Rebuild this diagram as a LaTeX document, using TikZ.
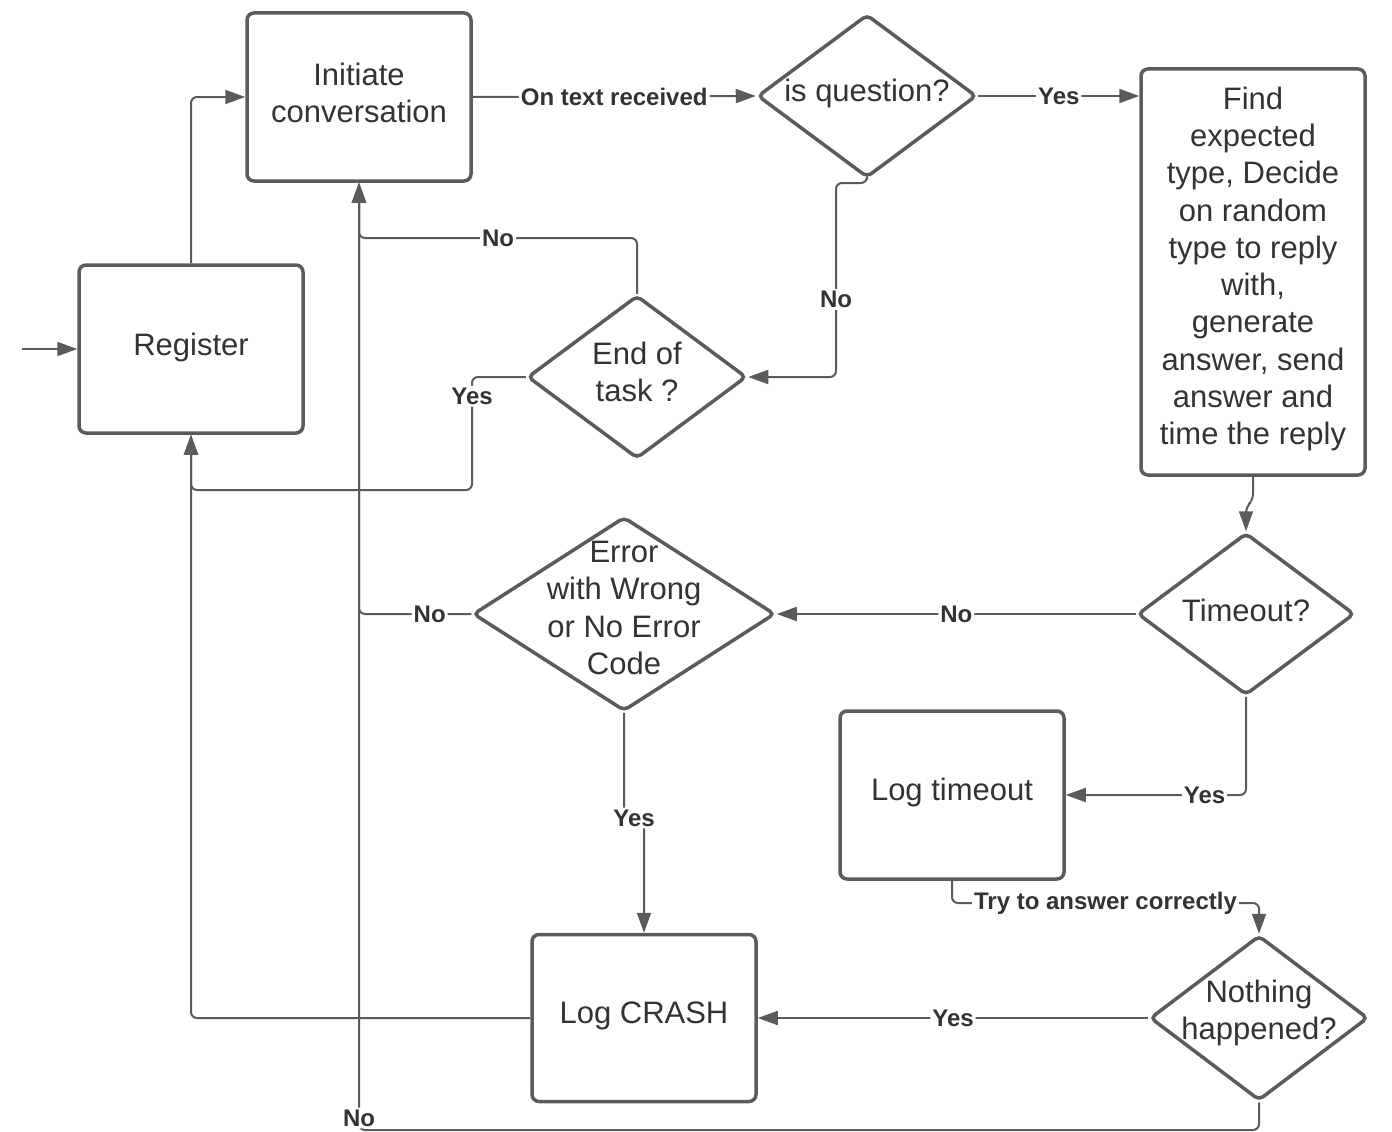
\documentclass[tikz,border=0pt]{standalone}
\usepackage{fontspec}
\setmainfont{Liberation Sans}
\usetikzlibrary{arrows.meta,shapes.geometric}
\definecolor{lc}{HTML}{5B5B5B}
\definecolor{tc}{HTML}{333333}
\newcommand{\mainfnt}{\fontsize{31}{37.3}\selectfont}
\newcommand{\lblfnt}{\fontsize{24}{26}\selectfont\bfseries}
\begin{document}
\begin{tikzpicture}[x=1pt,y=-1pt,
  box/.style={draw=lc, line width=3.5pt, rounded corners=7pt, minimum width=224pt, minimum height=168pt, inner sep=0pt, text=tc, font=\mainfnt, align=center},
  dia/.style={draw=lc, line width=3.5pt, rounded corners=5pt, diamond, inner sep=0pt},
  txt/.style={text=tc, font=\mainfnt, align=center, inner sep=0pt},
  conn/.style={draw=lc, line width=2pt, rounded corners=6pt, -{Triangle[length=20pt,width=14pt]}},
  lbl/.style={fill=white, text=tc, font=\lblfnt, inner sep=2pt}]
\useasboundingbox (0,0) rectangle (1392,1132);
\fill[white] (0,0) rectangle (1392,1132);

% boxes
\node[box] (reg) at (191,349) {};
\node[txt] at (191,347) {Register};
\node[box] (init) at (359,97) {};
\node[txt] at (359,93) {Initiate\\conversation};
\node[box, minimum height=406pt] (find) at (1253,272) {};
\node[txt] at (1253,269) {Find\\expected\\type, Decide\\on random\\type to reply\\with,\\generate\\answer, send\\answer and\\time the reply};
\node[box] (logt) at (952,795) {};
\node[txt] at (952,792) {Log timeout};
\node[box, minimum height=167pt] (crash) at (644,1018) {};
\node[txt] at (644,1016) {Log CRASH};

% diamonds
\node[dia, minimum width=219pt, minimum height=163pt] (q) at (867,96) {};
\node[txt] at (867,93) {is question?};
\node[dia, minimum width=219pt, minimum height=163pt] (eot) at (637,377) {};
\node[txt] at (637,372) {End of\\task ?};
\node[dia, minimum width=217pt, minimum height=162pt] (tim) at (1246,614) {};
\node[txt] at (1246,610) {Timeout?};
\node[dia, minimum width=302pt, minimum height=194pt] (err) at (624,614) {};
\node[txt] at (624,608) {Error\\with Wrong\\or No Error\\Code};
\node[dia, minimum width=218pt, minimum height=165pt] (nh) at (1259,1018) {};
\node[txt] at (1259,1013) {Nothing\\happened?};

\coordinate (entry) at (22,349);

% connectors
\draw[conn] (entry) -- (reg.west);
\draw[conn] (reg.north) |- (init.west);
\draw[conn] (init.east) -- node[lbl]{On text received} (q.west);
\draw[conn] (q.east) -- node[lbl]{Yes} (find.west |- q.east);
\draw[conn] (q.south) -- (867,183) -- (836,183) -- node[lbl,pos=0.6]{No} (836,377) -- (eot.east);
\draw[conn] (eot.north) -- (637,238) -- node[lbl]{No} (359,238) -- (init.south);
\draw[conn] (eot.west) -- (472,377) -- node[lbl,pos=0.17]{Yes} (472,490) -- (191,490) -- (reg.south);
\draw[conn] (find.south) -- (1253,500) -- (1246,507) -- (tim.north);
\draw[conn] (tim.west) -- node[lbl]{No} (err.east);
\draw[conn] (tim.south) -- (1246,795) -- node[lbl,pos=0.23]{Yes} (logt.east);
\draw[conn] (err.west) -- node[lbl,pos=0.37]{No} (359,614) -- (init.south);
\draw[conn] (err.south) -- (624,818) -- node[lbl]{Yes} (644,818) -- (crash.north);
\draw[conn] (crash.west) -- (191,1018) -- (reg.south);
\draw[conn] (logt.south) -- (952,903) -- node[lbl]{Try to answer correctly} (1259,903) -- (nh.north);
\draw[conn] (nh.west) -- node[lbl]{Yes} (crash.east);
\draw[conn] (nh.south) -- (1259,1130) -- node[lbl,pos=1,yshift=12pt]{No} (359,1130) -- (init.south);
\end{tikzpicture}
\end{document}
